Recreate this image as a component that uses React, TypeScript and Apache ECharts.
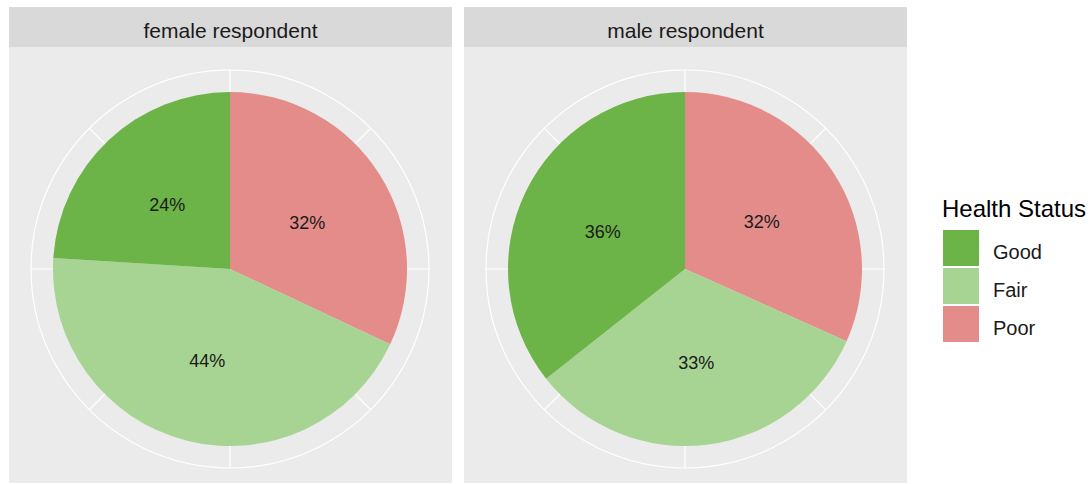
import React, { useEffect, useRef } from "react";
import * as echarts from "echarts";

// Facet panels and the share of each health status within them
const panels = ["female respondent", "male respondent"];
const statuses = ["Good", "Fair", "Poor"];
const femaleShares = { Good: 24, Fair: 44, Poor: 32 };
const maleShares = { Good: 36, Fair: 33, Poor: 32 };
const panelShares = [femaleShares, maleShares];
const statusColors = { Good: "#6cb348", Fair: "#a7d492", Poor: "#e38c8a" };
// Slices run clockwise from twelve o'clock in this order
const sliceOrder = ["Poor", "Fair", "Good"];

const FONT = "'Liberation Sans', Arial, sans-serif";

export default function App() {
  const ref = useRef<HTMLDivElement>(null);

  useEffect(() => {
    if (!ref.current) return;
    const chart = echarts.init(ref.current, null, { renderer: "svg" });

    const panelLeft = [9, 464];
    const panelWidth = 443;
    const stripTop = 7;
    const stripHeight = 40;
    const panelBottom = 483;
    const centers = panelLeft.map((l) => [l + 221, 269]);

    const graphics: any[] = [];
    panels.forEach((name, i) => {
      graphics.push({
        type: "rect",
        z: -10,
        shape: { x: panelLeft[i], y: stripTop, width: panelWidth, height: stripHeight },
        style: { fill: "#d9d9d9" },
        silent: true,
      });
      graphics.push({
        type: "rect",
        z: -10,
        shape: {
          x: panelLeft[i],
          y: stripTop + stripHeight,
          width: panelWidth,
          height: panelBottom - stripTop - stripHeight,
        },
        style: { fill: "#ebebeb" },
        silent: true,
      });
      graphics.push({
        type: "text",
        z: 10,
        x: panelLeft[i] + panelWidth / 2,
        y: stripTop + stripHeight / 2 + 3,
        style: {
          text: name,
          fontFamily: FONT,
          fontSize: 21,
          fill: "#1a1a1a",
          textAlign: "center",
          textVerticalAlign: "middle",
        },
        silent: true,
      });
    });
    graphics.push({
      type: "text",
      z: 10,
      x: 942,
      y: 208,
      style: {
        text: "Health Status",
        fontFamily: FONT,
        fontSize: 24,
        fill: "#000",
        textAlign: "left",
        textVerticalAlign: "middle",
      },
      silent: true,
    });

    const polar = centers.map((c) => ({ center: c, radius: 199 }));
    const angleAxis = centers.map((_, i) => ({
      polarIndex: i,
      type: "value",
      min: 0,
      max: 100,
      interval: 12.5,
      startAngle: 90,
      clockwise: true,
      z: 1,
      axisLine: { show: true, lineStyle: { color: "#ffffff", width: 1.2 } },
      axisTick: { show: false },
      axisLabel: { show: false },
      splitLine: { show: true, lineStyle: { color: "#ffffff", width: 1.2 } },
      silent: true,
    }));
    const radiusAxis = centers.map((_, i) => ({
      polarIndex: i,
      type: "value",
      min: 0,
      max: 1,
      axisLine: { show: false },
      axisTick: { show: false },
      axisLabel: { show: false },
      splitLine: { show: false },
      silent: true,
    }));

    const series = panelShares.map((shares, i) => ({
      type: "pie",
      name: panels[i],
      center: centers[i],
      radius: 177,
      startAngle: 90,
      clockwise: true,
      z: 2,
      selectedMode: false,
      avoidLabelOverlap: false,
      emphasis: { disabled: true },
      data: sliceOrder.map((s) => ({
        name: s,
        value: (shares as any)[s],
        itemStyle: { color: (statusColors as any)[s], borderWidth: 0 },
      })),
      label: {
        show: true,
        position: "inside",
        formatter: "{c}%",
        fontFamily: FONT,
        fontSize: 18,
        color: "#1a1a1a",
      },
      labelLayout: { dy: 3 },
      labelLine: { show: false },
    }));

    chart.setOption({
      animation: false,
      backgroundColor: "#ffffff",
      graphic: graphics,
      polar,
      angleAxis,
      radiusAxis,
      legend: {
        data: statuses,
        orient: "vertical",
        left: 943,
        top: 230,
        padding: 0,
        icon: "rect",
        itemWidth: 36,
        itemHeight: 36,
        itemGap: 2,
        selectedMode: false,
        formatter: (name: string) => `{t|${name}}`,
        textStyle: {
          fontFamily: FONT,
          fontSize: 20,
          color: "#1a1a1a",
          rich: {
            t: {
              fontFamily: FONT,
              fontSize: 20,
              color: "#1a1a1a",
              padding: [8, 0, 0, 9],
            },
          },
        },
      },
      series,
    });

    return () => chart.dispose();
  }, []);

  return (
    <div
      ref={ref}
      style={{ position: "fixed", left: 0, top: 0, width: 1091, height: 484 }}
    />
  );
}
